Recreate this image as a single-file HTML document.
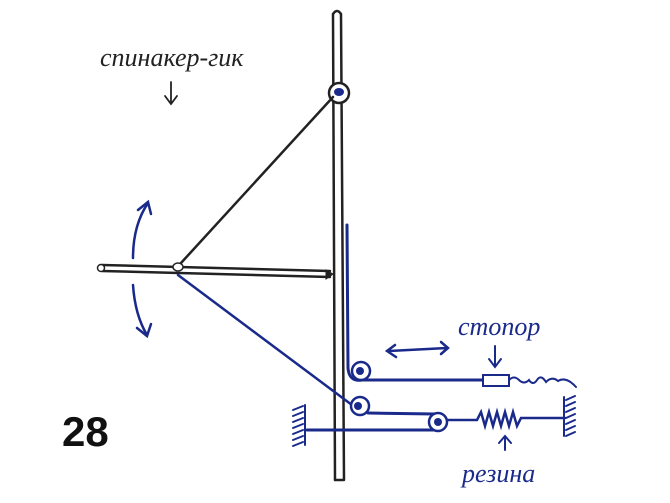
<html><body style="margin:0;background:#fff">
<svg width="670" height="503" xmlns="http://www.w3.org/2000/svg" style="display:block">
<rect width="670" height="503" fill="#fff"/>
<g fill="none" stroke-linecap="round">
<path d="M333,14 L335,480 M341,14 L344,480 M333,14 Q337,8 341,14" stroke="#222" stroke-width="2.5"/>
<line x1="343" y1="480" x2="335" y2="480" stroke="#222" stroke-width="2.5"/>
<circle cx="339" cy="93" r="10" fill="#fff" stroke="#222" stroke-width="2.5"/>
<ellipse cx="339" cy="92" rx="5" ry="4" fill="#1a2a8a" stroke="none"/>
<path d="M102,265 L330,271 M102,271 L330,277" stroke="#222" stroke-width="2.5"/>
<circle cx="101" cy="268" r="3.5" fill="#fff" stroke="#222" stroke-width="1.5"/>
<path d="M326,270 L333,274 L326,279 Z" fill="#222" stroke="#222" stroke-width="1"/>
<ellipse cx="178" cy="267" rx="5" ry="4" fill="#fff" stroke="#222" stroke-width="1.5"/>
<line x1="181" y1="263" x2="333" y2="97" stroke="#222" stroke-width="2.5"/>
<line x1="178" y1="275" x2="352" y2="405" stroke="#1a2a8a" stroke-width="2.5"/>
<path d="M347,225 L348,368 Q349,382 362,380 L485,380" stroke="#1a2a8a" stroke-width="3"/>
<circle cx="361" cy="371" r="9" fill="#fff" stroke="#1a2a8a" stroke-width="2.5"/>
<circle cx="360" cy="371" r="4" fill="#1a2a8a"/>
<rect x="483" y="375" width="26" height="11" fill="#fff" stroke="#1a2a8a" stroke-width="2"/>
<path d="M509,380 q5,-5 10,0 t10,0 q4,6 8,0 t9,2 q6,-6 12,-1 q8,-5 18,6" stroke="#1a2a8a" stroke-width="2"/>
<circle cx="360" cy="406" r="9" fill="#fff" stroke="#1a2a8a" stroke-width="2.5"/>
<circle cx="358" cy="406" r="4" fill="#1a2a8a"/>
<line x1="368" y1="413" x2="435" y2="414" stroke="#1a2a8a" stroke-width="3"/>
<line x1="307" y1="430" x2="440" y2="430" stroke="#1a2a8a" stroke-width="3"/>
<circle cx="438" cy="422" r="9" fill="#fff" stroke="#1a2a8a" stroke-width="2.5"/>
<circle cx="438" cy="422" r="4" fill="#1a2a8a"/>
<path d="M447,420 L477,420 l4,-8 l4,14 l4,-14 l4,14 l4,-14 l4,14 l4,-14 l4,14 l4,-14 l4,14 l4,-8 L565,418" stroke="#1a2a8a" stroke-width="2.5"/>
<line x1="305" y1="405" x2="305" y2="445" stroke="#1a2a8a" stroke-width="2"/>
<path d="M293,410 l10,-4 M293,416 l10,-4 M293,422 l10,-4 M293,428 l10,-4 M293,434 l10,-4 M293,440 l10,-4 M293,446 l10,-4" stroke="#1a2a8a" stroke-width="2"/>
<line x1="564" y1="397" x2="564" y2="436" stroke="#1a2a8a" stroke-width="2"/>
<path d="M566,400 l9,-4 M566,406 l9,-4 M566,412 l9,-4 M566,418 l9,-4 M566,424 l9,-4 M566,430 l9,-4 M566,436 l9,-4" stroke="#1a2a8a" stroke-width="2"/>
<path d="M133,258 Q133,225 148,203 M133,285 Q135,315 147,335" stroke="#1a2a8a" stroke-width="2.5"/>
<path d="M138,210 L148,202 L151,214 M137,328 L147,336 L151,324" stroke="#1a2a8a" stroke-width="2.5"/>
<path d="M389,351 L447,348 M395,345 L387,351 L396,357 M441,342 L448,348 L441,354" stroke="#1a2a8a" stroke-width="2.5"/>
<path d="M171,82 L171,103 M165,96 L171,104 L177,96" stroke="#222" stroke-width="1.8"/>
<path d="M495,346 L495,367 M489,359 L495,367 L501,359" stroke="#1a2a8a" stroke-width="2"/>
<path d="M505,450 L505,437 M499,443 L505,436 L511,443" stroke="#1a2a8a" stroke-width="2"/>
</g>
<text x="100" y="66" font-family="Liberation Serif, serif" font-style="italic" font-size="26" fill="#222">спинакер-гик</text>
<text x="458" y="335" font-family="Liberation Serif, serif" font-style="italic" font-size="26" fill="#1a2a8a">стопор</text>
<text x="462" y="482" font-family="Liberation Serif, serif" font-style="italic" font-size="26" fill="#1a2a8a">резина</text>
<text x="62" y="446" font-family="Liberation Sans, sans-serif" font-weight="bold" font-size="42" fill="#111">28</text>
</svg>
</body></html>
